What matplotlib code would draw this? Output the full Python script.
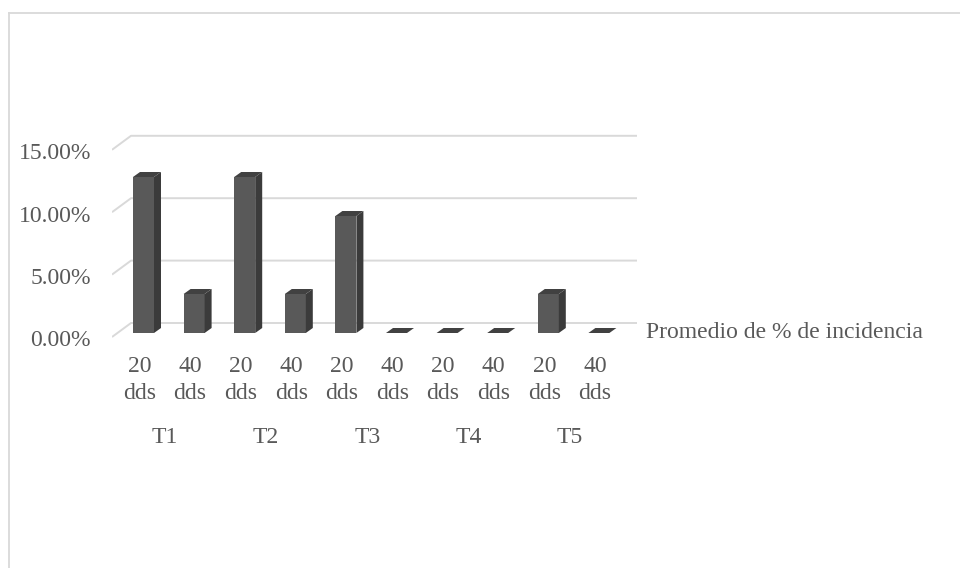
import matplotlib
matplotlib.use("Agg")
import matplotlib.pyplot as plt
from matplotlib.patches import Polygon
from matplotlib.lines import Line2D

# ---- data ----
groups = ["T1", "T2", "T3", "T4", "T5"]
days = ["20\ndds", "40\ndds"]
values = [12.5, 3.125, 12.5, 3.125, 9.375, 0.0, 0.0, 0.0, 3.125, 0.0]  # %
yticks = [0, 5, 10, 15]
series_name = "Promedio de % de incidencia"

W, H = 960, 568
fig = plt.figure(figsize=(W / 100, H / 100), dpi=100)
plt.rcParams['font.family'] = ['Liberation Serif', 'DejaVu Serif']
TXT = "#595959"
GRID = "#d9d9d9"
FS = 17

# outer chart border (left and top visible)
fig.add_artist(Line2D([9 / W, 9 / W], [0, 1 - 13 / H], color=GRID, lw=1.3))
fig.add_artist(Line2D([9 / W, 1], [1 - 13 / H, 1 - 13 / H], color=GRID, lw=1.3))

# axes mapping: x unit = 50.6 px, y unit (1%) = 12.48 px
PX = 1 / 50.6
PY = 1 / 12.48
left_px, right_px, top_px, bot_px = 112, 637, 120, 350
x0 = (left_px - 143.5) * PX
x1 = (right_px - 143.5) * PX
ax = fig.add_axes([left_px / W, 1 - bot_px / H, (right_px - left_px) / W, (bot_px - top_px) / H])
ax.set_xlim(x0, x1)
ax.set_ylim(-(bot_px - 333) * PY, (333 - top_px) * PY)
ax.axis("off")

# back-wall gridlines with slanted side edge
for v in yticks:
    ax.plot([x0, x0 + 19 * PX, x1], [v - 4 * PY, v + 10 * PY, v + 10 * PY],
            color=GRID, lw=1.4, solid_capstyle="butt", zorder=1)
    ax.text(x0 - 21 * PX, v - 13.5 * PY, f"{v:.2f}%", ha="right", va="baseline",
            fontsize=FS, color=TXT)

# 3D-looking bars
hw = 10.5 * PX
dx, dy = 7 * PX, 5 * PY
FRONT, SIDE, TOP = "#595959", "#3b3b3b", "#414141"
xs = list(range(len(values)))
ax.bar(xs, values, width=2 * hw, color=FRONT, zorder=3, linewidth=0)
for x, v in zip(xs, values):
    side = [(x + hw, 0), (x + hw + dx, dy), (x + hw + dx, v + dy), (x + hw, v)]
    top = [(x - hw, v), (x + hw, v), (x + hw + dx, v + dy), (x - hw + dx, v + dy)]
    ax.add_patch(Polygon(side, closed=True, facecolor=SIDE, edgecolor="none", zorder=3))
    ax.add_patch(Polygon(top, closed=True, facecolor=TOP, edgecolor="none", zorder=3))

# category labels
lab_dx = -4 * PX
for i, x in enumerate(xs):
    d1, d2 = days[i % 2].split("\n")
    ax.text(x + lab_dx, -(372 - 333) * PY, d1, ha="center", va="baseline",
            fontsize=FS, color=TXT, clip_on=False)
    ax.text(x + lab_dx, -(399 - 333) * PY, d2, ha="center", va="baseline",
            fontsize=FS, color=TXT, clip_on=False)
for g, name in enumerate(groups):
    xc = 2 * g + 0.5 + lab_dx
    ax.text(xc, -(443 - 333) * PY, name, ha="center", va="baseline",
            fontsize=FS, color=TXT, clip_on=False)

# series label (legend-like)
ax.text(x1 + 9 * PX, -(338 - 333) * PY, series_name, ha="left", va="baseline",
        fontsize=FS, color=TXT, clip_on=False)

fig.savefig("out.png", dpi=100, facecolor="white")
